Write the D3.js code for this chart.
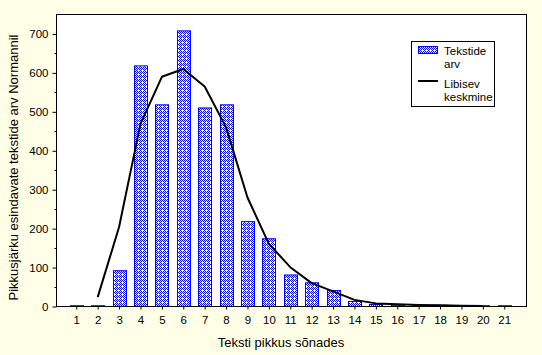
<!DOCTYPE html>
<html>
<head>
<meta charset="utf-8">
<script src="https://cdn.jsdelivr.net/npm/d3@7"></script>
<style>
  html, body { margin: 0; padding: 0; background: #FFFFE7; }
  svg { display: block; }
  text { font-family: "Liberation Sans", Arial, sans-serif; fill: #000; }
</style>
</head>
<body>
<svg id="chart" width="542" height="355"></svg>
<script>
// ---- data ----
const categories = [1,2,3,4,5,6,7,8,9,10,11,12,13,14,15,16,17,18,19,20,21];
const barValues  = [2,2,92,618,518,708,510,518,218,174,81,61,41,13,5,3,2,3,0,2,2];
const lineCategories = [2,3,4,5,6,7,8,9,10,11,12,13,14,15,16,17,18,19,20];
const lineValues = [24,204,469,590,610,565,460,280,161,101,60,39,17,8,6,4,3,2,1];
const yTicks = [0,100,200,300,400,500,600,700];
const yMinorTicks = [50,150,250,350,450,550,650];
const barLabel = "Tekstide arv";
const lineLabel = "Libisev keskmine";
const xTitle = "Teksti pikkus sõnades";
const yTitle = "Pikkusjärku esindavate tekstide arv Normannil";

// ---- layout ----
const svg = d3.select("#chart");
const L = 56.5, R = 526.5, T = 14.5, B = 306.5;

const x = d3.scaleLinear().domain([0.075, 22.04]).range([L, R]);
const y = d3.scaleLinear().domain([0, 750]).range([B, T]);
const barW = 13;

// pattern
const defs = svg.append("defs");
const pat = defs.append("pattern").attr("id","dots").attr("patternUnits","userSpaceOnUse")
  .attr("width",4).attr("height",4);
pat.append("rect").attr("width",4).attr("height",4).attr("fill","#fff");
[[0,0],[2,0],[1,1],[3,1],[0,2],[1,3],[3,3]].forEach(p=>{
  pat.append("rect").attr("x",p[0]).attr("y",p[1]).attr("width",1).attr("height",1).attr("fill","#0000ff");
});

// plot area
svg.append("rect").attr("x",L).attr("y",T).attr("width",R-L).attr("height",B-T)
  .attr("fill","#fff").attr("stroke","none");

// bars
svg.append("g").selectAll("rect").data(categories).join("rect")
  .attr("x", (d)=> Math.round(x(d) - barW/2) + 0.5)
  .attr("y", (d,i)=> y(barValues[i]))
  .attr("width", barW)
  .attr("height", (d,i)=> Math.max(0, B - y(barValues[i])))
  .attr("fill","url(#dots)")
  .attr("stroke","#0000ff").attr("stroke-width",1);

// line
const line = d3.line().x((d,i)=>x(d)).y((d,i)=>y(lineValues[i]));
svg.append("path").datum(lineCategories).attr("d", line)
  .attr("fill","none").attr("stroke","#000").attr("stroke-width",2).attr("stroke-linejoin","round");

// frame
svg.append("rect").attr("x",L).attr("y",T).attr("width",R-L).attr("height",B-T)
  .attr("fill","none").attr("stroke","#000").attr("stroke-width",1);

// y axis
const yAxis = d3.axisLeft(y).tickValues(yTicks).tickSize(4).tickPadding(4);
const gy = svg.append("g").attr("transform",`translate(${L},0)`).call(yAxis);
gy.select(".domain").remove();
gy.selectAll("text").style("font-family","'Liberation Sans', Arial, sans-serif").style("font-size","11.5px");
gy.selectAll("line").attr("stroke","#000");
svg.append("g").selectAll("line").data(yMinorTicks).join("line")
  .attr("x1",L-2).attr("x2",L).attr("y1",d=>Math.round(y(d))+0.5).attr("y2",d=>Math.round(y(d))+0.5)
  .attr("stroke","#000");

// x axis
const xAxis = d3.axisBottom(x).tickValues(categories).tickFormat(d3.format("d")).tickSize(3).tickPadding(6);
const gx = svg.append("g").attr("transform",`translate(0,${B})`).call(xAxis);
gx.select(".domain").remove();
gx.selectAll("text").style("font-family","'Liberation Sans', Arial, sans-serif").style("font-size","11.5px");
gx.selectAll("line").attr("stroke","#000");

// titles
svg.append("text").attr("x", 281).attr("y", 346.5).attr("text-anchor","middle")
  .style("font-size","13px").text(xTitle);
svg.append("text").attr("transform",`translate(17.5,${(T+B)/2 + 7}) rotate(-90)`).attr("text-anchor","middle")
  .style("font-size","13px").text(yTitle);

// legend
const lg = svg.append("g");
lg.append("rect").attr("x",411.5).attr("y",41.5).attr("width",83).attr("height",65)
  .attr("fill","#fff").attr("stroke","#000");
lg.append("rect").attr("x",418.5).attr("y",46.5).attr("width",19).attr("height",7)
  .attr("fill","url(#dots)").attr("stroke","#0000ff");
lg.append("line").attr("x1",418).attr("x2",438).attr("y1",81).attr("y2",81)
  .attr("stroke","#000").attr("stroke-width",2);
const bl = barLabel.split(" "), ll = lineLabel.split(" ");
lg.append("text").attr("x",444).attr("y",55).style("font-size","11.5px").text(bl[0]);
lg.append("text").attr("x",444).attr("y",68).style("font-size","11.5px").text(bl[1]);
lg.append("text").attr("x",444).attr("y",87.5).style("font-size","11.5px").text(ll[0]);
lg.append("text").attr("x",444).attr("y",101).style("font-size","11.5px").text(ll[1]);
</script>
</body>
</html>
